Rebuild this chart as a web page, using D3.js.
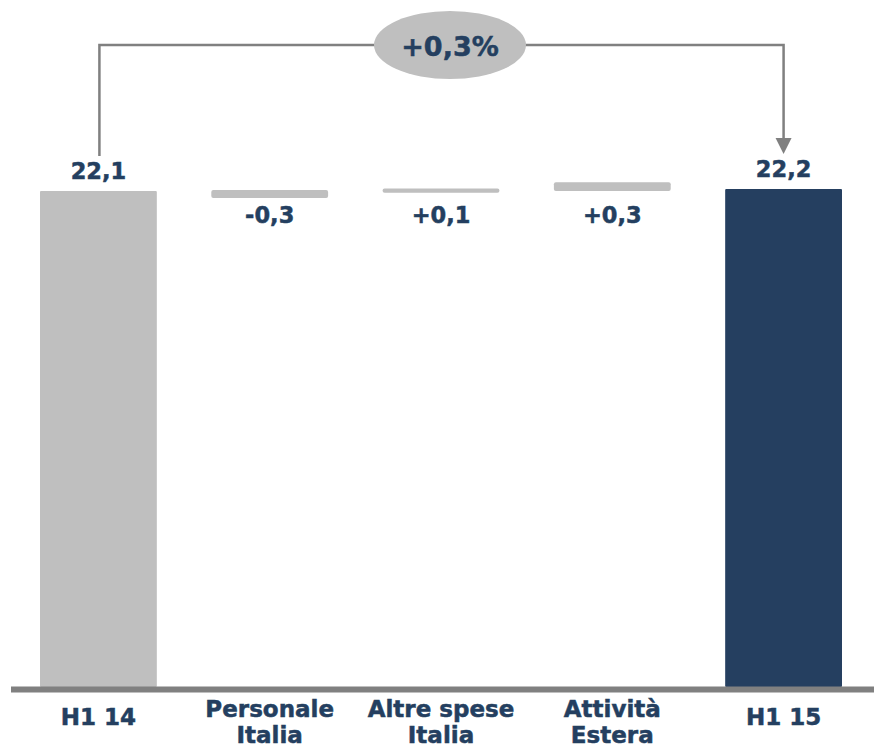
<!DOCTYPE html>
<html>
<head>
<meta charset="utf-8">
<script src="https://cdn.jsdelivr.net/npm/d3@7"></script>
<style>
  html, body { margin: 0; padding: 0; background: #fff; }
  text { font-family: "DejaVu Sans", Verdana, sans-serif; font-weight: bold; }
</style>
</head>
<body>
<div id="chart"></div>
<script>
const width = 874;
const height = 749;

// data
const categories = [["H1 14"], ["Personale", "Italia"], ["Altre spese", "Italia"], ["Attività", "Estera"], ["H1 15"]];
const valueLabels = ["22,1", "-0,3", "+0,1", "+0,3", "22,2"];
const kinds = ["total", "delta", "delta", "delta", "total"];
// floating bar extents (start / end of each bar, in value units)
const barLow = [0, 21.79, 22.03, 22.10, 0];
const barHigh = [22.1, 22.15, 22.22, 22.49, 22.2];
const changeLabel = "+0,3%";

const textColor = "#243F60";
const grey = "#BFBFBF";
const navy = "#253F60";
const lineGrey = "#808080";

const svg = d3.select("#chart")
    .append("svg")
    .attr("width", width)
    .attr("height", height);

const x = d3.scaleBand()
    .domain(d3.range(categories.length))
    .range([40, 842])
    .paddingInner(0.318)
    .paddingOuter(0);

const y = d3.scaleLinear()
    .domain([0, 22.15])
    .range([687, 190]);

// bars
svg.selectAll(".bar")
    .data(d3.range(categories.length))
    .join("rect")
    .attr("class", "bar")
    .attr("x", i => x(i))
    .attr("width", x.bandwidth())
    .attr("y", i => y(barHigh[i]))
    .attr("height", i => y(barLow[i]) - y(barHigh[i]))
    .attr("rx", i => kinds[i] === "delta" ? 2 : 1)
    .attr("fill", (i) => i === categories.length - 1 ? navy : grey);

// baseline
svg.append("line")
    .attr("x1", 11)
    .attr("x2", 874)
    .attr("y1", y(0) + 2.5)
    .attr("y2", y(0) + 2.5)
    .attr("stroke", lineGrey)
    .attr("stroke-width", 6);

// value labels
svg.selectAll(".val")
    .data(d3.range(categories.length))
    .join("text")
    .attr("class", "val")
    .attr("x", i => x(i) + x.bandwidth() / 2)
    .attr("y", i => kinds[i] === "total" ? y(barHigh[i]) - 12 : y(22.15) + 33)
    .attr("text-anchor", "middle")
    .attr("fill", textColor)
    .attr("stroke", textColor)
    .attr("stroke-width", 0.5)
    .style("font-size", "22.5px")
    .text(i => valueLabels[i]);

// category labels
const cat = svg.selectAll(".cat")
    .data(d3.range(categories.length))
    .join("text")
    .attr("class", "cat")
    .attr("text-anchor", "middle")
    .attr("fill", textColor)
    .attr("stroke", textColor)
    .attr("stroke-width", 0.5)
    .style("font-size", "23px");

cat.selectAll("tspan")
    .data(i => categories[i].map((t, k) => ({ t, k, i, n: categories[i].length })))
    .join("tspan")
    .attr("x", d => x(d.i) + x.bandwidth() / 2)
    .attr("y", d => d.n === 1 ? 725 : 717 + d.k * 26)
    .text(d => d.t);

// bracket + arrow between the two totals
const xl = x(0) + x.bandwidth() / 2 + 1;
const xr = x(categories.length - 1) + x.bandwidth() / 2;
const topY = 45;
const cx = 450;

svg.append("path")
    .attr("d", `M${xl},${y(barHigh[0]) - 35} V${topY} H${xr} V${y(barHigh[4]) - 50}`)
    .attr("fill", "none")
    .attr("stroke", lineGrey)
    .attr("stroke-width", 2.5);

const tipY = y(barHigh[4]) - 35;
svg.append("path")
    .attr("d", `M${xr - 8},${tipY - 16} L${xr + 8},${tipY - 16} L${xr},${tipY} Z`)
    .attr("fill", lineGrey);

svg.append("ellipse")
    .attr("cx", cx)
    .attr("cy", topY)
    .attr("rx", 76)
    .attr("ry", 34)
    .attr("fill", grey);

svg.append("text")
    .attr("x", cx)
    .attr("y", 56)
    .attr("text-anchor", "middle")
    .attr("fill", textColor)
    .attr("stroke", textColor)
    .attr("stroke-width", 0.5)
    .style("font-size", "27px")
    .text(changeLabel);
</script>
</body>
</html>
